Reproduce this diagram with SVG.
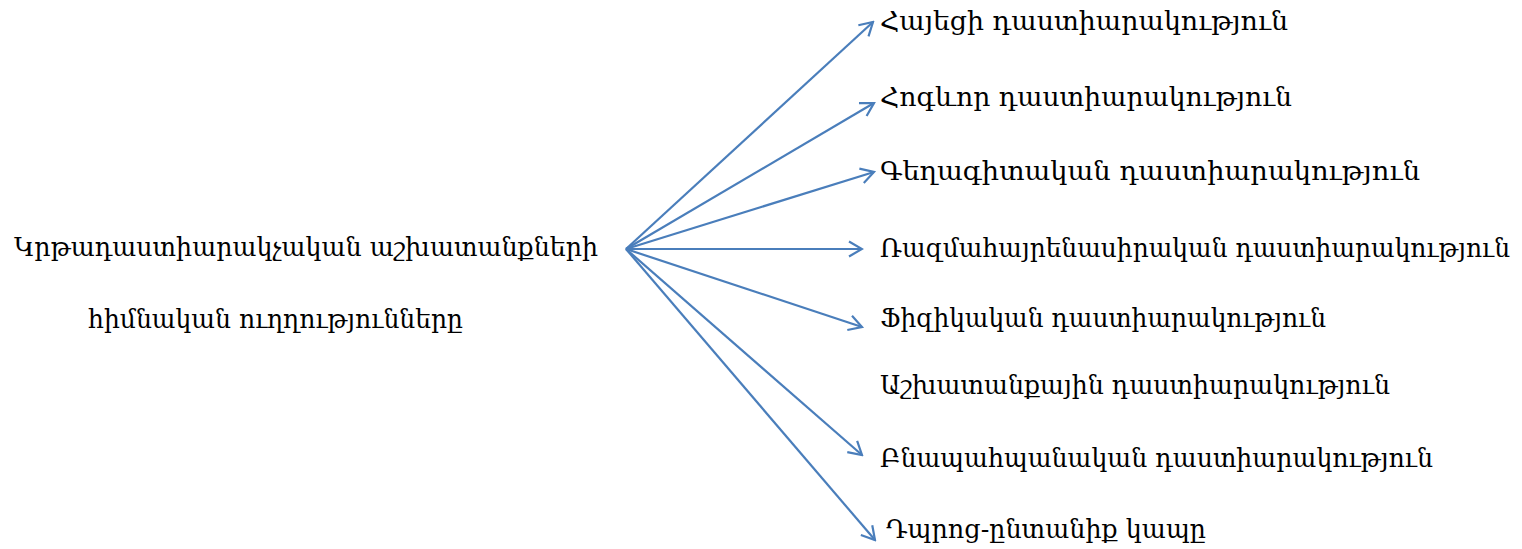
<svg xmlns="http://www.w3.org/2000/svg" width="1522" height="549" viewBox="0 0 1522 549">
<defs>
<style>
.t{font-family:"DejaVu Serif","DejaVu Sans",serif;font-size:26px;fill:#000}
.c{stroke:#4a7ebb;stroke-width:2.2;fill:none}
</style>
<marker id="ah" markerUnits="userSpaceOnUse" viewBox="-15 -10 17 20" refX="0" refY="0" markerWidth="17" markerHeight="20" orient="auto">
<path d="M-13,-7.5 L0,0 L-13,7.5" fill="none" stroke="#4a7ebb" stroke-width="2.2"/>
</marker>
</defs>
<rect width="1522" height="549" fill="#fff"/>
<g id="connectors">
<line class="c" x1="626" y1="249" x2="873" y2="22" marker-end="url(#ah)"/>
<line class="c" x1="626" y1="249" x2="874" y2="103" marker-end="url(#ah)"/>
<line class="c" x1="626" y1="249" x2="874" y2="172" marker-end="url(#ah)"/>
<line class="c" x1="626" y1="249" x2="862" y2="249" marker-end="url(#ah)"/>
<line class="c" x1="626" y1="249" x2="862" y2="327" marker-end="url(#ah)"/>
<line class="c" x1="626" y1="249" x2="862" y2="455" marker-end="url(#ah)"/>
<line class="c" x1="626" y1="249" x2="875" y2="540" marker-end="url(#ah)"/>
</g>
<g id="source">
<text class="t" x="14" y="256" textLength="584" lengthAdjust="spacingAndGlyphs">Կրթադաստիարակչական աշխատանքների</text>
<text class="t" x="88" y="328" textLength="375" lengthAdjust="spacingAndGlyphs">հիմնական ուղղությունները</text>
</g>
<g id="n1"><text class="t" x="880" y="30" textLength="408" lengthAdjust="spacingAndGlyphs">Հայեցի դաստիարակություն</text></g>
<g id="n2"><text class="t" x="880" y="106" textLength="412" lengthAdjust="spacingAndGlyphs">Հոգևոր դաստիարակություն</text></g>
<g id="n3"><text class="t" x="880" y="180" textLength="540" lengthAdjust="spacingAndGlyphs">Գեղագիտական դաստիարակություն</text></g>
<g id="n4"><text class="t" x="880" y="257" textLength="630" lengthAdjust="spacingAndGlyphs">Ռազմահայրենասիրական դաստիարակություն</text></g>
<g id="n5"><text class="t" x="880" y="327" textLength="446" lengthAdjust="spacingAndGlyphs">Ֆիզիկական դաստիարակություն</text></g>
<g id="n6"><text class="t" x="880" y="394" textLength="510" lengthAdjust="spacingAndGlyphs">Աշխատանքային դաստիարակություն</text></g>
<g id="n7"><text class="t" x="880" y="467" textLength="553" lengthAdjust="spacingAndGlyphs">Բնապահպանական դաստիարակություն</text></g>
<g id="n8"><text class="t" x="886" y="538" textLength="320" lengthAdjust="spacingAndGlyphs">Դպրոց-ընտանիք կապը</text></g>
</svg>
